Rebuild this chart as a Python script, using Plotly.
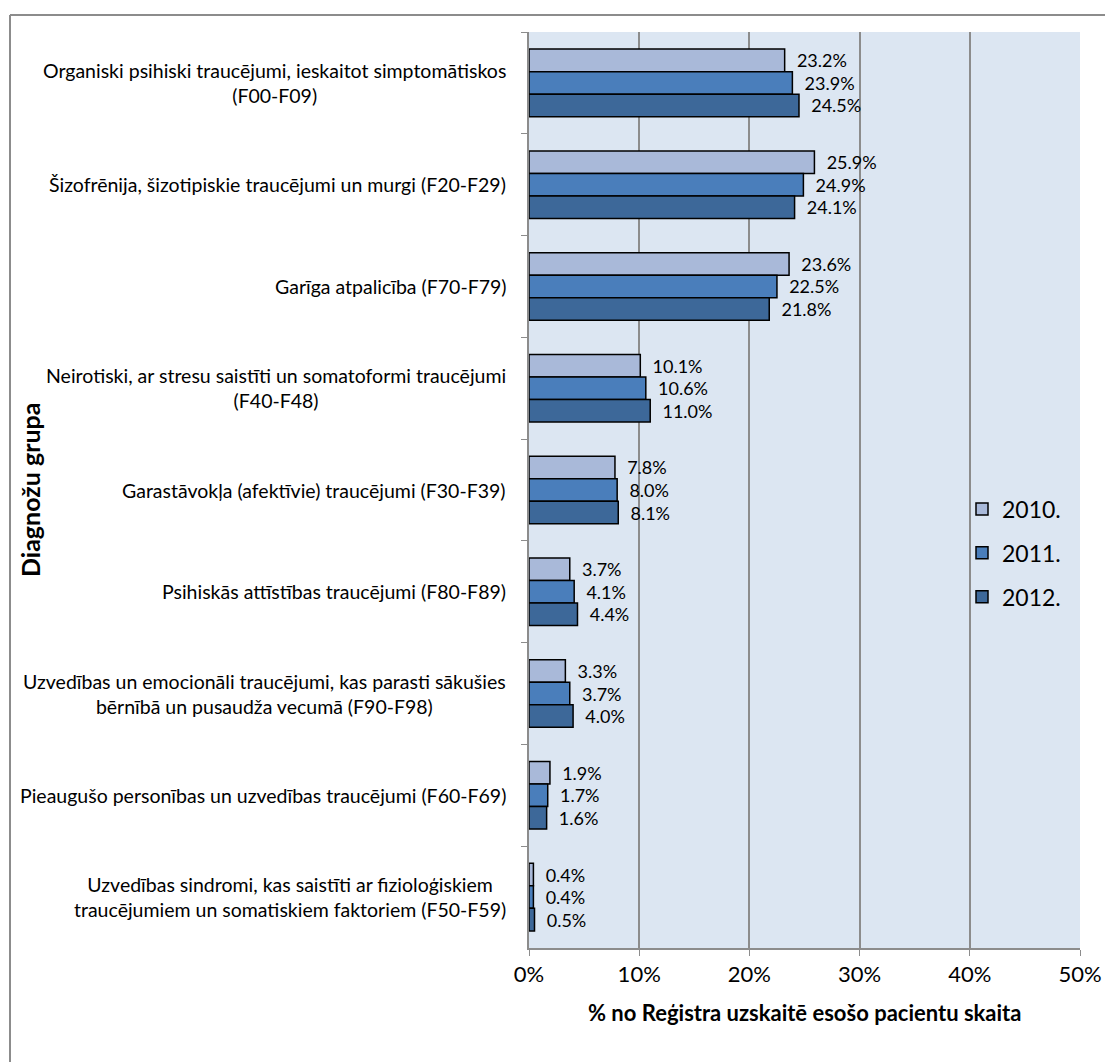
import plotly.graph_objects as go

categories = [
    "Organiski psihiski traucējumi, ieskaitot simptomātiskos<br>(F00-F09)",
    "Šizofrēnija, šizotipiskie traucējumi un murgi (F20-F29)",
    "Garīga atpalicība (F70-F79)",
    "Neirotiski, ar stresu saistīti un somatoformi traucējumi<br>(F40-F48)",
    "Garastāvokļa (afektīvie) traucējumi (F30-F39)",
    "Psihiskās attīstības traucējumi (F80-F89)",
    "Uzvedības un emocionāli traucējumi, kas parasti sākušies<br>bērnībā un pusaudža vecumā (F90-F98)",
    "Pieaugušo personības un uzvedības traucējumi (F60-F69)",
    "Uzvedības sindromi, kas saistīti ar fizioloģiskiem<br>traucējumiem un somatiskiem faktoriem (F50-F59)",
]
series_names = ["2010.", "2011.", "2012."]
values_2010 = [23.2, 25.9, 23.6, 10.1, 7.8, 3.7, 3.3, 1.9, 0.4]
values_2011 = [23.9, 24.9, 22.5, 10.6, 8.0, 4.1, 3.7, 1.7, 0.4]
values_2012 = [24.5, 24.1, 21.8, 11.0, 8.1, 4.4, 4.0, 1.6, 0.5]
x_tick_vals = [0, 10, 20, 30, 40, 50]
x_tick_text = ["0%", "10%", "20%", "30%", "40%", "50%"]
x_title = "% no Reģistra uzskaitē esošo pacientu skaita"
y_title = "Diagnožu grupa"

colors = ["#a9b9d9", "#4a7ebb", "#3d6899"]
FONT = "Lato"

W, H = 1105, 1062
L, R, T, B = 529, 25, 32, 114
pw, ph = W - L - R, H - T - B

def px_x(p):
    return (p - L) / pw

def px_y(p):
    return 1 - (p - T) / ph

fig = go.Figure()
for i, (name, vals) in enumerate(zip(series_names, [values_2010, values_2011, values_2012])):
    fig.add_trace(go.Bar(
        y=categories, x=vals, name=name, orientation="h",
        marker=dict(color=colors[i], line=dict(color="black", width=1.5)),
        text=vals, texttemplate="\u00a0\u00a0%{x:.1f}%",
        textposition="outside", cliponaxis=False,
        textfont=dict(family=FONT, size=18, color="black"),
        legendgroup=name,
    ))

annotations = []
for c in categories:
    annotations.append(dict(
        x=0, xref="paper", y=c, yref="y", xshift=-21,
        xanchor="right", yanchor="middle", align="center",
        text=c, showarrow=False,
        font=dict(family=FONT, size=19.5, color="black"),
    ))
annotations.append(dict(
    x=px_x(30), xref="paper", y=0.5, yref="paper", textangle=-90,
    xanchor="center", yanchor="middle", text="<b>" + y_title + "</b>",
    showarrow=False, font=dict(family=FONT, size=25, color="black"),
))
annotations.append(dict(
    x=0.5, xref="paper", y=px_y(1012), yref="paper",
    xanchor="center", yanchor="middle", text="<b>" + x_title + "</b>",
    showarrow=False, font=dict(family=FONT, size=22, color="black"),
))

shapes = [
    dict(type="line", xref="paper", yref="paper", x0=px_x(10), x1=px_x(10),
         y0=px_y(15), y1=px_y(1100), line=dict(color="#8c8c8c", width=2)),
    dict(type="line", xref="paper", yref="paper", x0=px_x(10), x1=px_x(1120),
         y0=px_y(15), y1=px_y(15), line=dict(color="#8c8c8c", width=2)),
]

fig.update_layout(
    width=W, height=H,
    margin=dict(l=L, r=R, t=T, b=B, autoexpand=False),
    paper_bgcolor="white", plot_bgcolor="#dce6f2",
    barmode="group", bargap=0.336, bargroupgap=0,
    font=dict(family=FONT, color="black"),
    showlegend=True,
    legend=dict(x=px_x(962), y=px_y(553), xanchor="left", yanchor="middle",
                font=dict(family=FONT, size=23, color="black"),
                traceorder="grouped", tracegroupgap=11,
                bgcolor="rgba(0,0,0,0)"),
    annotations=annotations, shapes=shapes,
)
fig.update_xaxes(
    range=[0, 50], tickvals=x_tick_vals, ticktext=x_tick_text,
    showgrid=True, gridcolor="#8c8c8c", gridwidth=1.5,
    showline=True, linecolor="#8c8c8c", linewidth=1.5,
    ticks="outside", ticklen=6, tickcolor="#8c8c8c",
    tickfont=dict(family=FONT, size=22, color="black"),
    zeroline=False, fixedrange=True, automargin=False,
)
fig.update_yaxes(
    type="category", autorange="reversed", categoryorder="array", categoryarray=categories,
    showticklabels=False, tickson="boundaries", ticks="outside", ticklen=6,
    tickcolor="#8c8c8c", showline=True, linecolor="#8c8c8c", linewidth=1.5,
    showgrid=False, zeroline=False, fixedrange=True, automargin=False,
)

fig.write_html("out.html")
